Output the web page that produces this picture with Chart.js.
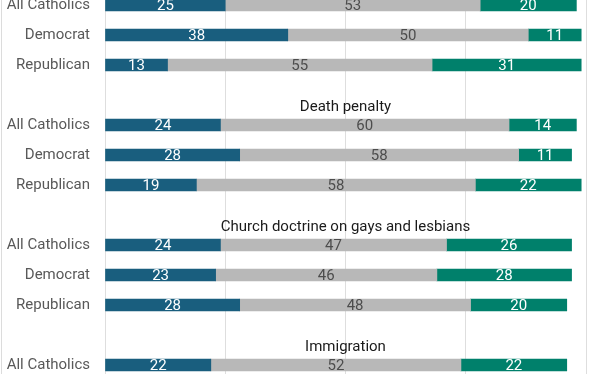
<!DOCTYPE html>
<html>
<head>
<meta charset="utf-8">
<script src="https://cdn.jsdelivr.net/npm/chart.js@4"></script>
<style>
  html, body { margin: 0; padding: 0; background: #fff; overflow: hidden; }
  #wrap { position: relative; width: 612px; height: 374px; overflow: hidden; }
  #chart { position: absolute; left: 0; top: -10px; }
</style>
</head>
<body>
<div id="wrap"><canvas id="chart" width="612" height="392"></canvas></div>
<script>
/* Catholic views by party, stacked shares */

// one row per slot; '' rows are the topic heading slots
const rowLabels = [
  'All Catholics', 'Democrat', 'Republican', '',
  'All Catholics', 'Democrat', 'Republican', '',
  'All Catholics', 'Democrat', 'Republican', '',
  'All Catholics'
];
const topicTitles = [
  null, null, null, 'Death penalty',
  null, null, null, 'Church doctrine on gays and lesbians',
  null, null, null, 'Immigration',
  null
];

const blueVals  = [25, 38, 13, null, 24, 28, 19, null, 24, 23, 28, null, 22];
const grayVals  = [53, 50, 55, null, 60, 58, 58, null, 47, 46, 48, null, 52];
const greenVals = [20, 11, 31, null, 14, 11, 22, null, 26, 28, 20, null, 22];

const xTicks = [0, 25, 50, 75, 100];

const BLUE  = '#195e7e';
const GRAY  = '#b8b8b8';
const GREEN = '#00806b';
const FONT  = 'Roboto, "Noto Sans", sans-serif';

const valueLabels = {
  id: 'valueLabels',
  afterDatasetsDraw(chart) {
    const ctx = chart.ctx;
    ctx.save();
    ctx.font = `15px ${FONT}`;
    ctx.textAlign = 'center';
    ctx.textBaseline = 'middle';
    chart.data.datasets.forEach((ds, di) => {
      const meta = chart.getDatasetMeta(di);
      meta.data.forEach((bar, i) => {
        const v = ds.data[i];
        if (v == null) return;
        const p = bar.getCenterPoint();
        ctx.fillStyle = ds._textColor;
        ctx.fillText(String(v), p.x, p.y + 1);
      });
    });
    ctx.restore();
  }
};

const topicHeads = {
  id: 'topicHeads',
  afterDraw(chart) {
    const ctx = chart.ctx;
    const ys = chart.scales.y;
    const area = chart.chartArea;
    ctx.save();
    ctx.font = `15px ${FONT}`;
    ctx.fillStyle = '#1a1a1a';
    ctx.textAlign = 'center';
    ctx.textBaseline = 'middle';
    topicTitles.forEach((t, i) => {
      if (!t) return;
      ctx.fillText(t, (area.left + area.right) / 2, ys.getPixelForValue(i) + 12);
    });
    ctx.restore();
  }
};

const frameLines = {
  id: 'frameLines',
  beforeDraw(chart) {
    const ctx = chart.ctx;
    ctx.save();
    ctx.strokeStyle = '#dcdcdc';
    ctx.lineWidth = 1;
    ctx.beginPath();
    ctx.moveTo(1.5, 0); ctx.lineTo(1.5, chart.height);
    ctx.stroke();
    ctx.restore();
  }
};

function mkSet(label, data, color, textColor) {
  return {
    label,
    data,
    backgroundColor: color,
    borderWidth: 0,
    barThickness: 12,
    _textColor: textColor,
  };
}

new Chart(document.getElementById('chart'), {
  type: 'bar',
  data: {
    labels: rowLabels,
    datasets: [
      mkSet('blue',  blueVals,  BLUE,  '#ffffff'),
      mkSet('gray',  grayVals,  GRAY,  '#4d4d4d'),
      mkSet('green', greenVals, GREEN, '#ffffff'),
    ],
  },
  options: {
    indexAxis: 'y',
    responsive: false,
    animation: false,
    layout: { autoPadding: false, padding: { top: 0, bottom: 2, left: 0, right: 26 } },
    plugins: {
      legend: { display: false },
      tooltip: { enabled: false },
    },
    scales: {
      x: {
        stacked: true,
        min: 0,
        max: 100,
        afterBuildTicks: s => { s.ticks = xTicks.map(v => ({ value: v })); },
        afterFit: s => { s.height = 0; s.paddingTop = 0; s.paddingBottom = 0; },
        ticks: { display: false },
        grid: { color: '#dedede', drawTicks: false },
        border: { display: false },
      },
      y: {
        stacked: true,
        offset: true,
        afterFit: s => { s.width = 105; s.paddingTop = 0; s.paddingBottom = 0; },
        grid: { display: false, drawTicks: false },
        border: { display: false },
        ticks: {
          color: '#595959',
          padding: 15,
          font: { family: FONT, size: 15 },
        },
      },
    },
  },
  plugins: [frameLines, valueLabels, topicHeads],
});
</script>
</body>
</html>
